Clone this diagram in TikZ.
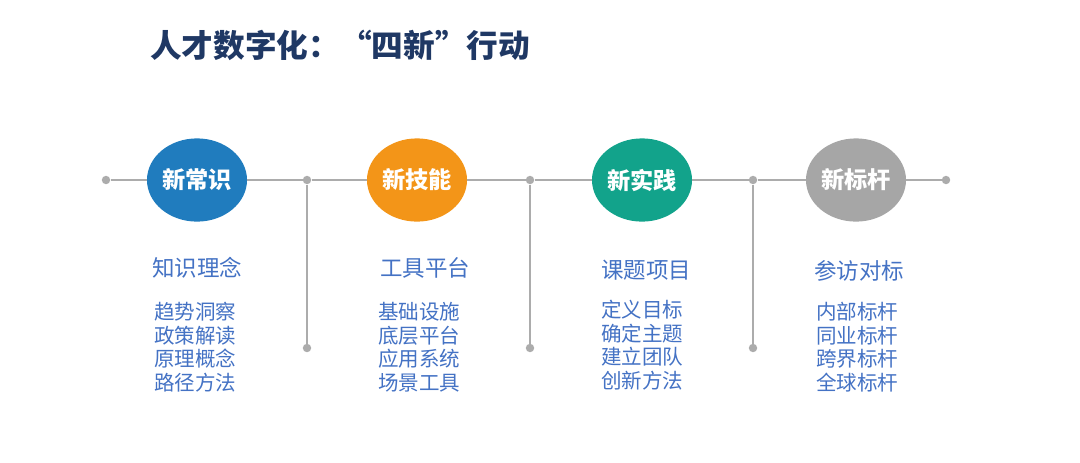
\documentclass[tikz,border=0pt]{standalone}
\usepackage{fontspec}
\usetikzlibrary{shapes.geometric}
\newfontfamily\cjk{Noto Sans CJK SC}
\definecolor{titleblue}{RGB}{31,56,100}
\definecolor{textblue}{RGB}{68,114,196}
\definecolor{kblue}{RGB}{32,124,190}
\definecolor{korange}{RGB}{243,149,24}
\definecolor{kteal}{RGB}{18,163,139}
\definecolor{kgray}{RGB}{166,166,166}
\definecolor{linegray}{RGB}{172,172,172}
\begin{document}
\begin{tikzpicture}[x=0.025cm, y=-0.025cm, font=\cjk,
  dot/.style={circle, fill=linegray, inner sep=0pt, minimum size=6pt},
  badge/.style={ellipse, minimum width=2.5cm, minimum height=2.08cm, inner sep=0pt,
                text=white, font=\cjk\bfseries\fontsize{16.5}{18}\selectfont},
  head/.style={anchor=west, inner sep=0pt, text=textblue, font=\cjk\fontsize{16}{18}\selectfont},
  items/.style={anchor=north west, inner sep=0pt, align=left, text=textblue,
                font=\cjk\fontsize{14.6}{16.7}\selectfont},
  rail/.style={draw=linegray, line width=2pt}]
  \useasboundingbox (0,0) rectangle (1080,462);

  \node (title) [anchor=west, inner sep=0pt, text=titleblue, font=\cjk\bfseries\fontsize{22.5}{26}\selectfont]
        at (150,45) {人才数字化：“四新”行动};

  % rail and badges
  \node (start) [dot] at (106,180) {};
  \node (j1)    [dot] at (307,180) {};
  \node (j2)    [dot] at (530,180) {};
  \node (j3)    [dot] at (753,180) {};
  \node (end)   [dot] at (946,180) {};
  \node (b1)    [dot] at (307,348) {};
  \node (b2)    [dot] at (530,348) {};
  \node (b3)    [dot] at (753,348) {};

  \node (cs) [badge, fill=kblue]   at (197,180) {新常识};
  \node (jn) [badge, fill=korange] at (417,180) {新技能};
  \node (sj) [badge, fill=kteal]   at (642,180) {新实践};
  \node (bg) [badge, fill=kgray]   at (856,180) {新标杆};

  \draw[rail] (start) -- (cs) -- (j1) -- (jn) -- (j2) -- (sj) -- (j3) -- (bg) -- (end);
  \draw[rail] (j1) -- (b1);
  \draw[rail] (j2) -- (b2);
  \draw[rail] (j3) -- (b3);

  % columns
  \node (h1) [head] at (152,268) {知识理念};
  \node (h2) [head] at (380,268) {工具平台};
  \node (h3) [head] at (601,270) {课题项目};
  \node (h4) [head] at (814,271) {参访对标};

  \node (i1) [items] at (154,302) {趋势洞察\\政策解读\\原理概念\\路径方法};
  \node (i2) [items] at (378,302) {基础设施\\底层平台\\应用系统\\场景工具};
  \node (i3) [items] at (601,300) {定义目标\\确定主题\\建立团队\\创新方法};
  \node (i4) [items] at (816,302) {内部标杆\\同业标杆\\跨界标杆\\全球标杆};
\end{tikzpicture}
\end{document}
